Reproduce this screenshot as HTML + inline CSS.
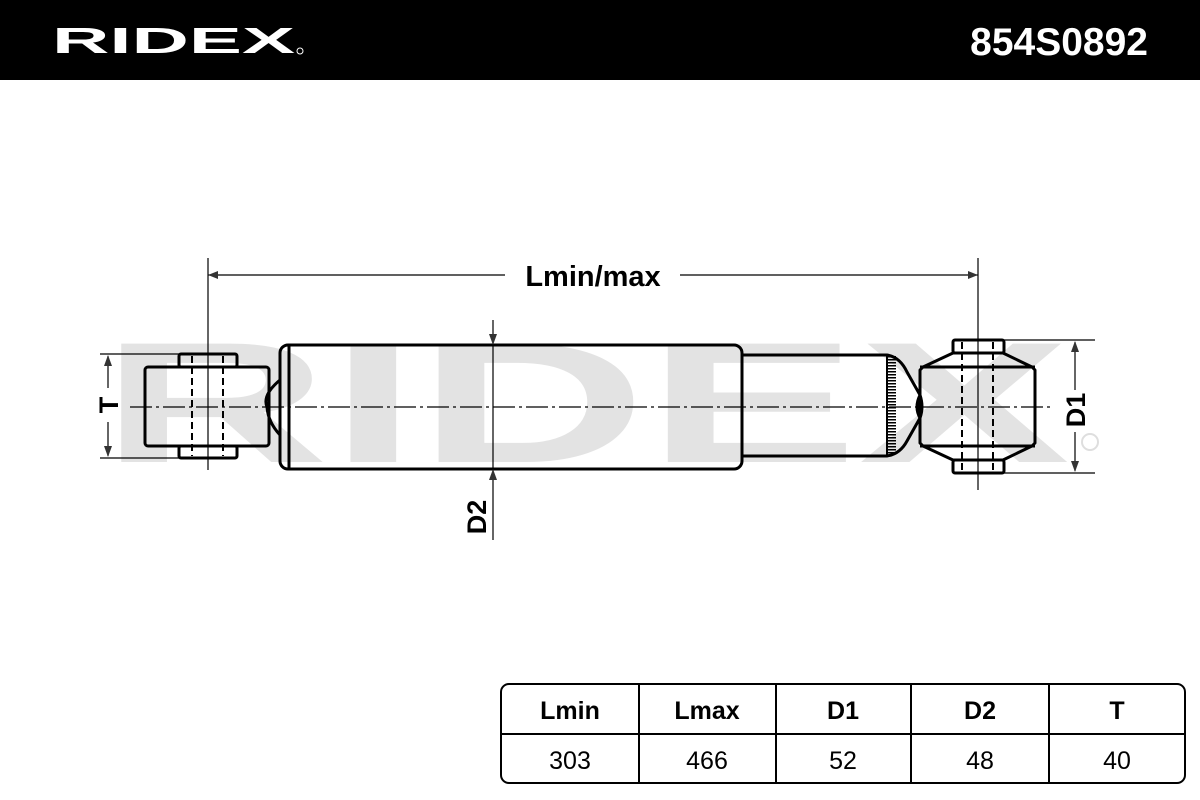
<!DOCTYPE html>
<html><head><meta charset="utf-8"><style>
html,body{margin:0;padding:0;background:#fff;}
svg{display:block;}
text{font-family:"Liberation Sans",sans-serif;}
</style></head><body>
<svg width="1200" height="800" viewBox="0 0 1200 800" xmlns="http://www.w3.org/2000/svg">
<rect x="0" y="0" width="1200" height="80" fill="#000"/>
<text x="52" y="53" font-size="36" font-weight="bold" fill="#fff" textLength="243" lengthAdjust="spacingAndGlyphs">RIDEX</text>
<circle cx="300" cy="51" r="3" fill="none" stroke="#fff" stroke-width="1"/>
<text x="1148" y="55" font-size="39" font-weight="bold" fill="#fff" text-anchor="end">854S0892</text>

<!-- watermark -->
<text x="100" y="462" font-size="172" font-weight="bold" fill="#e3e3e3" textLength="970" lengthAdjust="spacingAndGlyphs">RIDEX</text>
<circle cx="1090" cy="442" r="8" fill="none" stroke="#dedede" stroke-width="2"/>

<g fill="none" stroke="#000" stroke-width="3" stroke-linejoin="round">
<!-- left eye -->
<rect x="179" y="354" width="58" height="13" rx="2"/>
<rect x="179" y="446" width="58" height="12" rx="2"/>
<rect x="145" y="367" width="124" height="79" rx="3"/>
<path d="M280 380 Q262 395 267 407 Q268 422 280 435"/>
<!-- body -->
<rect x="280" y="345" width="462" height="124" rx="8"/>
<line x1="289" y1="345" x2="289" y2="469"/>
<!-- rod -->
<path d="M742 355 L887 355 Q900 357 907 372 L920 395 M742 456 L887 456 Q900 454 907 441 L920 418"/>
<path d="M920 395 Q924 407 920 418 Q914 407 920 395Z"/>
<!-- right eye -->
<path d="M923 367 L953 353 L1003 353 L1032 367 L1035 370 L1035 443 L1032 446 L1003 460 L953 460 L923 446 L920 443 L920 370Z"/>
<line x1="920" y1="367" x2="1035" y2="367"/>
<line x1="920" y1="446" x2="1035" y2="446"/>
<rect x="953" y="340" width="51" height="13" rx="2"/>
<rect x="953" y="460" width="51" height="13" rx="2"/>
</g>
<line x1="887" y1="355" x2="887" y2="456" stroke="#000" stroke-width="2"/>
<line x1="892" y1="356" x2="892" y2="455" stroke="#000" stroke-width="8" stroke-dasharray="1.5 1.5"/>
<!-- dashed hidden lines -->
<g stroke="#000" stroke-width="2" stroke-dasharray="7 4">
<line x1="192" y1="356" x2="192" y2="456"/><line x1="223" y1="356" x2="223" y2="456"/>
<line x1="962" y1="342" x2="962" y2="471"/><line x1="993" y1="342" x2="993" y2="471"/>
</g>
<!-- center lines -->
<g stroke="#000" stroke-width="1.2">
<line x1="130" y1="407" x2="1050" y2="407" stroke-dasharray="22 4 3 4"/>
<line x1="208" y1="258" x2="208" y2="470"/>
<line x1="978" y1="258" x2="978" y2="490"/>
<line x1="493" y1="320" x2="493" y2="540"/>
<line x1="100" y1="354" x2="180" y2="354"/><line x1="100" y1="458" x2="180" y2="458"/>
<line x1="1000" y1="340" x2="1095" y2="340"/><line x1="1000" y1="473" x2="1095" y2="473"/>
<line x1="208" y1="275" x2="505" y2="275"/><line x1="680" y1="275" x2="978" y2="275"/>
<line x1="108" y1="356" x2="108" y2="388"/><line x1="108" y1="422" x2="108" y2="456"/>
<line x1="1075" y1="342" x2="1075" y2="390"/><line x1="1075" y1="432" x2="1075" y2="471"/>
</g>
<g fill="#333">
<path d="M208 275 l10 -4 l0 8z"/><path d="M978 275 l-10 -4 l0 8z"/>
<path d="M108 355 l-4 11 l8 0z"/><path d="M108 457 l-4 -11 l8 0z"/>
<path d="M1075 341 l-4 11 l8 0z"/><path d="M1075 472 l-4 -11 l8 0z"/>
<path d="M493 345 l-4 -11 l8 0z"/><path d="M493 469 l-4 11 l8 0z"/>
</g>
<text x="593" y="286" font-size="29" font-weight="bold" text-anchor="middle">Lmin/max</text>
<text transform="translate(118 405) rotate(-90)" font-size="27" font-weight="bold" text-anchor="middle">T</text>
<text transform="translate(486 517) rotate(-90)" font-size="27" font-weight="bold" text-anchor="middle">D2</text>
<text transform="translate(1085 410) rotate(-90)" font-size="27" font-weight="bold" text-anchor="middle">D1</text>

<!-- table -->
<g fill="none" stroke="#000" stroke-width="2">
<rect x="501" y="684" width="684" height="99" rx="8"/>
<line x1="501" y1="734" x2="1185" y2="734"/>
<line x1="639" y1="684" x2="639" y2="783"/><line x1="776" y1="684" x2="776" y2="783"/>
<line x1="911" y1="684" x2="911" y2="783"/><line x1="1049" y1="684" x2="1049" y2="783"/>
</g>
<g font-size="25" text-anchor="middle">
<text x="570" y="719" font-weight="bold">Lmin</text>
<text x="707" y="719" font-weight="bold">Lmax</text>
<text x="843" y="719" font-weight="bold">D1</text>
<text x="980" y="719" font-weight="bold">D2</text>
<text x="1117" y="719" font-weight="bold">T</text>
<text x="570" y="769">303</text>
<text x="707" y="769">466</text>
<text x="843" y="769">52</text>
<text x="980" y="769">48</text>
<text x="1117" y="769">40</text>
</g>
</svg>
</body></html>
